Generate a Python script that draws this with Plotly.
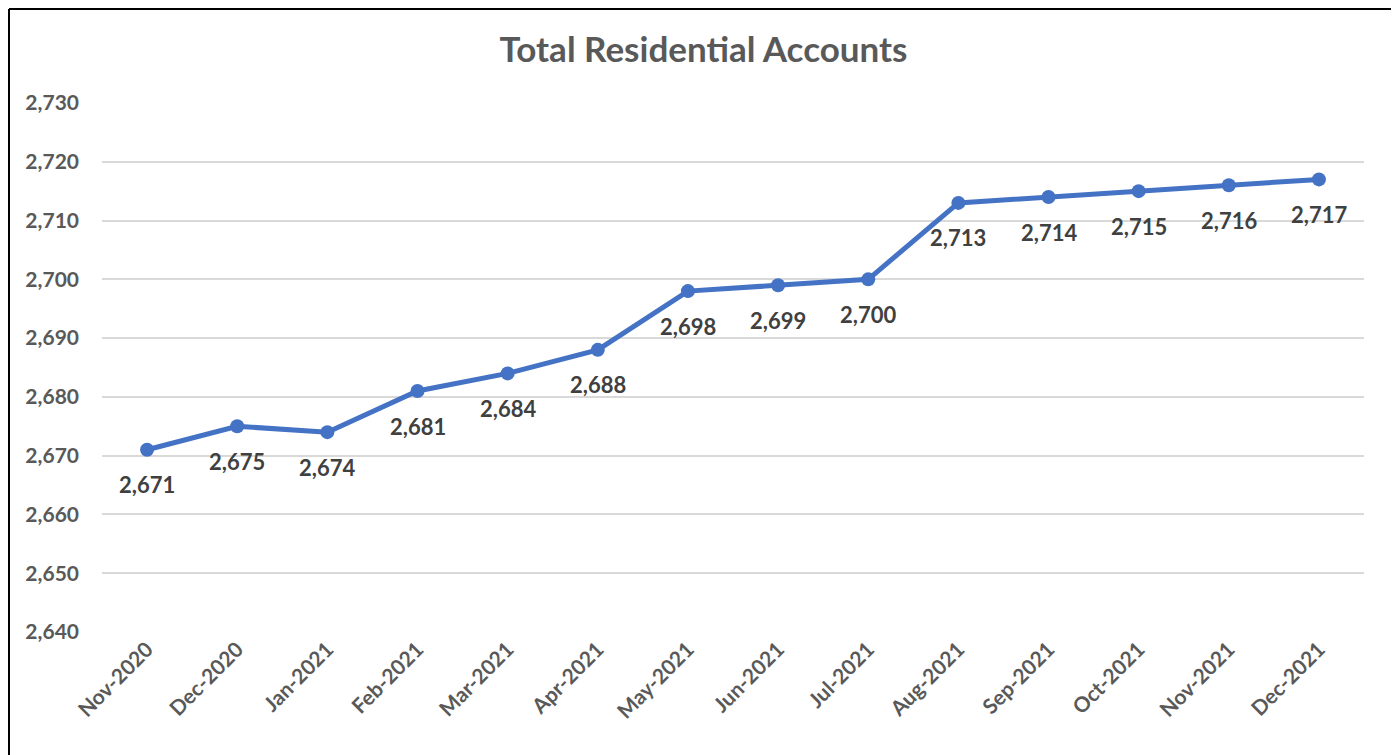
import plotly.graph_objects as go

months = ["Nov-2020", "Dec-2020", "Jan-2021", "Feb-2021", "Mar-2021", "Apr-2021", "May-2021",
          "Jun-2021", "Jul-2021", "Aug-2021", "Sep-2021", "Oct-2021", "Nov-2021", "Dec-2021"]
accounts = [2671, 2675, 2674, 2681, 2684, 2688, 2698, 2699, 2700, 2713, 2714, 2715, 2716, 2717]
y_ticks = [2640, 2650, 2660, 2670, 2680, 2690, 2700, 2710, 2720, 2730]

OFF = 8  # page body margin
W, H = 1399 - OFF, 755 - OFF
L, R, T, B = 102 - OFF, 35, 103 - OFF, 123
FONT = "Lato, Carlito, Calibri, sans-serif"

fig = go.Figure()
fig.add_trace(go.Scatter(
    x=months, y=accounts, mode="lines+markers",
    line=dict(color="#4472C4", width=5),
    marker=dict(color="#4472C4", size=14),
    hoverinfo="x+y",
))
for m, v in zip(months, accounts):
    fig.add_annotation(x=m, y=v, text=f"<b>{v:,}</b>", showarrow=False,
                       yshift=-35, xanchor="center", yanchor="middle",
                       font=dict(family=FONT, size=22, color="#404040"))

pw = W - L - R
ph = H - T - B
def px(x):  # figure pixel -> paper
    return (x - L) / pw
def py(y):
    return 1 - (y - T) / ph

frame_left, frame_top, frame_right, frame_bottom = 1, 1, 1385, H + 5
frame = dict(color="black", width=2)
fig.add_shape(type="line", xref="paper", yref="paper", x0=px(frame_left), x1=px(frame_right),
              y0=py(frame_top), y1=py(frame_top), line=frame, layer="above")
fig.add_shape(type="line", xref="paper", yref="paper", x0=px(frame_left), x1=px(frame_left),
              y0=py(frame_top), y1=py(frame_bottom), line=frame, layer="above")
fig.add_shape(type="line", xref="paper", yref="paper", x0=px(frame_right), x1=px(frame_right),
              y0=py(frame_top), y1=py(frame_bottom), line=frame, layer="above")

fig.update_layout(
    width=W, height=H,
    margin=dict(l=L, r=R, t=T, b=B),
    paper_bgcolor="white", plot_bgcolor="white",
    showlegend=False,
    title=dict(text="<b>Total Residential Accounts</b>", x=0.5, xanchor="center",
               y=1 - (50 - OFF) / H, yanchor="middle",
               font=dict(family=FONT, size=35, color="#595959")),
    xaxis=dict(type="category", range=[-0.5, len(months) - 0.5], tickangle=-45,
               showgrid=False, showline=False, ticks="",
               tickfont=dict(family=FONT, size=21, color="#595959", weight="bold")),
    yaxis=dict(range=[2640, 2730], tickvals=y_ticks, ticktext=[f"{v:,}" for v in y_ticks],
               showgrid=True, gridcolor="#D9D9D9", gridwidth=1.5, zeroline=False,
               showline=False, ticks="", ticklabelstandoff=22,
               tickfont=dict(family=FONT, size=21, color="#595959", weight="bold")),
)

fig.write_html("out.html")
